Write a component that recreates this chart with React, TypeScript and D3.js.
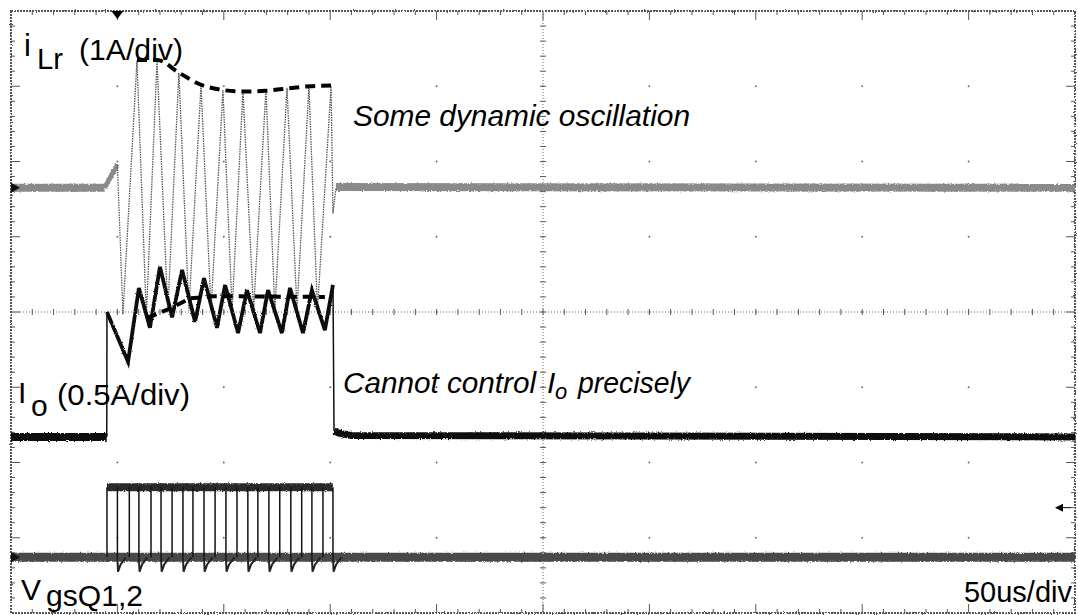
import React from 'react';
import * as d3 from 'd3';

const W = 1078;
const H = 615;

// Time axis: 10 div x 50 us; vertical: 8 divisions
const timeDomain: [number, number] = [0, 500];
const divDomain: [number, number] = [-4, 4];
const xDivs = 10;
const yDivs = 8;
const minorPerDiv = 5;

// ---- iLr (1A/div), values in divisions ----
const iLrPre: [number, number][] = [[0, 1.65], [44, 1.65]];
const iLrRamp: [number, number][] = [[44, 1.65], [50, 1.96], [52.6, -0.03]];
const iLrOsc: [number, number][] = [
  [52.6, -0.03], [59.2, 3.34], [63.6, -0.05], [68.6, 3.34], [73.7, 0.02], [78.9, 3.18],
  [83.6, 0.02], [89.3, 3.02], [94.0, 0.02], [99.6, 2.95], [103.9, 0.02], [109.0, 2.94],
  [114.0, 0.02], [119.8, 2.96], [124.0, 0.02], [129.7, 2.98], [134.4, 0.02], [140.0, 3.0],
  [144.0, 0.02], [150.4, 3.0], [151.3, 1.31], [152.7, 1.65],
];
const iLrPost: [number, number][] = [[152.7, 1.66], [500, 1.65]];
const iLrEnvelope: [number, number][] = [
  [59.2, 3.35], [68.6, 3.35], [78.9, 3.18], [89.3, 3.02], [99.6, 2.95],
  [109.0, 2.93], [119.8, 2.94], [129.7, 2.97], [140.0, 3.0], [150.4, 3.01],
];

// ---- Io (0.5A/div) ----
const ioPre: [number, number][] = [[0, -1.66], [45, -1.66]];
const ioOn: [number, number][] = [
  [45.0, -1.66], [45.1, 0.0], [55.0, -0.66], [60.1, 0.32], [65.3, -0.21], [70.0, 0.6],
  [75.7, -0.07], [80.4, 0.56], [86.5, -0.13], [90.7, 0.45], [96.8, -0.21], [100.6, 0.36],
  [106.7, -0.28], [110.9, 0.29], [117.0, -0.28], [120.8, 0.29], [127.3, -0.28], [131.1, 0.32],
  [137.2, -0.28], [141.4, 0.29], [147.5, -0.24], [151.3, 0.36], [151.8, -1.58],
];
const ioPost: [number, number][] = [[151.8, -1.58], [154, -1.61], [160, -1.64], [500, -1.66]];
const ioAverage: [number, number][] = [[64, -0.08], [75, 0.05], [84, 0.18], [95, 0.21], [147.5, 0.2]];

// ---- VgsQ1,2 ----
const vgsLow = -3.26;
const vgsHigh = -2.33;
const vgsSpikeMin = -3.45;
const vgsEdges = [
  45.1, 50.0, 55.6, 60.1, 65.8, 70.5, 75.7, 80.8, 85.5, 90.7, 95.9, 101.0,
  106.2, 111.3, 116.0, 121.2, 126.3, 131.5, 136.6, 141.4, 146.6, 151.3,
];

// markers
const triggerTime = 50;
const triggerLevel = -2.6;
const groundLevels = [1.65, -1.66, -3.26];

export default function App() {
  const x = d3.scaleLinear().domain(timeDomain).range([11, 1075]);
  const y = d3.scaleLinear().domain(divDomain).range([613, 11]);
  const line = d3.line<[number, number]>().x(d => x(d[0])).y(d => y(d[1]));
  const smooth = d3.line<[number, number]>().x(d => x(d[0])).y(d => y(d[1])).curve(d3.curveMonotoneX);

  const [x0, x1] = x.range();
  const [y0, y1] = [y(divDomain[1]), y(divDomain[0])];
  const xStep = (x1 - x0) / xDivs;
  const yStep = (y1 - y0) / yDivs;
  const cx = x((timeDomain[0] + timeDomain[1]) / 2);
  const cy = y(0);

  const xMinor = d3.range(1, xDivs * minorPerDiv).map(i => x0 + (i * xStep) / minorPerDiv);
  const yMinor = d3.range(1, yDivs * minorPerDiv).map(i => y0 + (i * yStep) / minorPerDiv);

  const ticks: JSX.Element[] = [];
  xMinor.forEach((px, i) => {
    const major = (i + 1) % minorPerDiv === 0;
    const len = major ? 9 : 4;
    ticks.push(<line key={'t' + i} x1={px} x2={px} y1={y0} y2={y0 + len} />);
    ticks.push(<line key={'b' + i} x1={px} x2={px} y1={y1} y2={y1 - len} />);
    ticks.push(<line key={'c' + i} x1={px} x2={px} y1={cy - 3} y2={cy + 3} />);
  });
  yMinor.forEach((py, i) => {
    const major = (i + 1) % minorPerDiv === 0;
    const len = major ? 9 : 4;
    ticks.push(<line key={'l' + i} x1={x0} x2={x0 + len} y1={py} y2={py} />);
    ticks.push(<line key={'r' + i} x1={x1} x2={x1 - len} y1={py} y2={py} />);
    ticks.push(<line key={'m' + i} x1={cx - 3} x2={cx + 3} y1={py} y2={py} />);
  });

  const dots: JSX.Element[] = [];
  d3.range(1, xDivs).forEach(i => {
    d3.range(1, yDivs).forEach(j => {
      dots.push(<circle key={`d${i}-${j}`} cx={x0 + i * xStep} cy={y0 + j * yStep} r={0.9} fill="#666" />);
    });
  });

  const vgsEdgeLines = vgsEdges.map((t, i) => (
    <line key={'e' + i} x1={x(t)} x2={x(t)} y1={y(vgsLow)} y2={y(vgsHigh)} stroke="#111" strokeWidth={1.5} />
  ));
  const vgsSpikes = vgsEdges.filter((_, i) => i % 2 === 1).map((t, i) => {
    const pts: [number, number][] = [[t, vgsLow], [t + 0.3, vgsSpikeMin], [t + 1.5, (vgsSpikeMin + vgsLow) / 2], [t + 4, vgsLow]];
    return <path key={'s' + i} d={line(pts) || ''} fill="none" stroke="#222" strokeWidth={2} />;
  });

  const lbl = { fontFamily: '"Liberation Sans", Arial, sans-serif', fill: '#000' } as const;

  return (
    <svg width={W} height={H} style={{ position: 'absolute', left: 0, top: 0, background: '#fff' }}>
      <defs>
        <filter id="noise" filterUnits="userSpaceOnUse" x={0} y={0} width={W} height={H}>
          <feTurbulence type="fractalNoise" baseFrequency="0.7" numOctaves="2" seed="3" result="n" />
          <feDisplacementMap in="SourceGraphic" in2="n" scale="3" xChannelSelector="R" yChannelSelector="G" />
        </filter>
        <filter id="rough" filterUnits="userSpaceOnUse" x={0} y={0} width={W} height={H}>
          <feTurbulence type="fractalNoise" baseFrequency="0.9" numOctaves="1" seed="7" result="n" />
          <feDisplacementMap in="SourceGraphic" in2="n" scale="2.5" xChannelSelector="R" yChannelSelector="G" />
        </filter>
      </defs>
      <rect x={0} y={0} width={W} height={H} fill="#fff" />

      {/* graticule */}
      <g stroke="#555" strokeWidth={1}>
        {ticks}
      </g>
      {dots}
      <line x1={cx} x2={cx} y1={y0} y2={y1} stroke="#666" strokeWidth={1} strokeDasharray="1 2" />
      <line x1={x0} x2={x1} y1={cy} y2={cy} stroke="#666" strokeWidth={1} strokeDasharray="1 2" />
      <rect x={x0} y={y0} width={x1 - x0} height={y1 - y0} fill="none" stroke="#555" strokeWidth={2} strokeDasharray="2 1" filter="url(#rough)" />

      {/* iLr */}
      <g filter="url(#noise)">
        <path d={line(iLrPre) || ''} fill="none" stroke="#8a8a8a" strokeWidth={8} />
        <path d={line(iLrPost) || ''} fill="none" stroke="#8a8a8a" strokeWidth={8} />
        <path d={line(iLrRamp.slice(0, 2)) || ''} fill="none" stroke="#8a8a8a" strokeWidth={5} />
      </g>
      <path d={line(iLrRamp.slice(1)) || ''} fill="none" stroke="#555" strokeWidth={1.2} strokeDasharray="1.5 1" />
      <path d={line(iLrOsc) || ''} fill="none" stroke="#555" strokeWidth={1.3} strokeDasharray="1.5 1" />
      <path d={smooth(iLrEnvelope) || ''} fill="none" stroke="#000" strokeWidth={4} strokeDasharray="10 6" />

      {/* Io */}
      <g filter="url(#noise)">
        <path d={line(ioPre) || ''} fill="none" stroke="#111" strokeWidth={8} />
        <path d={line(ioPost) || ''} fill="none" stroke="#111" strokeWidth={7} />
      </g>
      <path d={line(ioOn.slice(0, 2)) || ''} fill="none" stroke="#111" strokeWidth={1.5} />
      <g filter="url(#rough)">
        <path d={line(ioOn.slice(1, -1)) || ''} fill="none" stroke="#111" strokeWidth={3.8} strokeLinejoin="miter" />
      </g>
      <path d={line(ioOn.slice(-2)) || ''} fill="none" stroke="#111" strokeWidth={1.5} />
      <path d={line(ioAverage) || ''} fill="none" stroke="#000" strokeWidth={4} strokeDasharray="10 6" />

      {/* Vgs */}
      <g filter="url(#noise)">
        <path d={line([[timeDomain[0], vgsLow], [timeDomain[1], vgsLow]]) || ''} fill="none" stroke="#4a4a4a" strokeWidth={9} />
        <path d={line([[vgsEdges[0], vgsHigh], [vgsEdges[vgsEdges.length - 1], vgsHigh]]) || ''} fill="none" stroke="#2a2a2a" strokeWidth={8} />
      </g>
      {vgsEdgeLines}
      {vgsSpikes}

      {/* markers */}
      <path d={`M${x(triggerTime) - 6},${y0} L${x(triggerTime) + 6},${y0} L${x(triggerTime)},${y0 + 8} Z`} fill="#000" />
      {groundLevels.map((g, i) => (
        <path key={'g' + i} d={`M${x0},${y(g) - 5} L${x0 + 9},${y(g)} L${x0},${y(g) + 5} Z`} fill="#111" />
      ))}
      <path d={`M${x1 - 20},${y(triggerLevel)} L${x1 - 12},${y(triggerLevel) - 4} L${x1 - 12},${y(triggerLevel) + 4} Z`} fill="#000" />
      <line x1={x1 - 12} x2={x1 - 4} y1={y(triggerLevel)} y2={y(triggerLevel)} stroke="#000" strokeWidth={1} />

      {/* labels */}
      <text x={24} y={56} fontSize={31} {...lbl}>i</text>
      <text x={37} y={69} fontSize={30} textLength={26} lengthAdjust="spacingAndGlyphs" {...lbl}>Lr</text>
      <text x={79} y={60} fontSize={30} textLength={104} lengthAdjust="spacingAndGlyphs" {...lbl}>(1A/div)</text>

      <text x={18} y={403} fontSize={30} {...lbl}>I</text>
      <text x={31} y={416} fontSize={30} {...lbl}>o</text>
      <text x={57} y={405} fontSize={30} textLength={133} lengthAdjust="spacingAndGlyphs" {...lbl}>(0.5A/div)</text>

      <text x={21} y={600} fontSize={30} {...lbl}>V</text>
      <text x={46} y={606} fontSize={29} textLength={97} lengthAdjust="spacingAndGlyphs" {...lbl}>gsQ1,2</text>

      <text x={1072} y={602} fontSize={29} textAnchor="end" {...lbl}>50us/div</text>

      <text x={353} y={126} fontSize={30} fontStyle="italic" textLength={337} lengthAdjust="spacingAndGlyphs" {...lbl}>Some dynamic oscillation</text>
      <text x={343} y={393} fontSize={30} fontStyle="italic" textLength={193} lengthAdjust="spacingAndGlyphs" {...lbl}>Cannot control</text>
      <text x={547} y={393} fontSize={30} fontStyle="italic" {...lbl}>I</text>
      <text x={555} y={399} fontSize={22} fontStyle="italic" {...lbl}>o</text>
      <text x={578} y={393} fontSize={30} fontStyle="italic" textLength={112} lengthAdjust="spacingAndGlyphs" {...lbl}>precisely</text>
    </svg>
  );
}
